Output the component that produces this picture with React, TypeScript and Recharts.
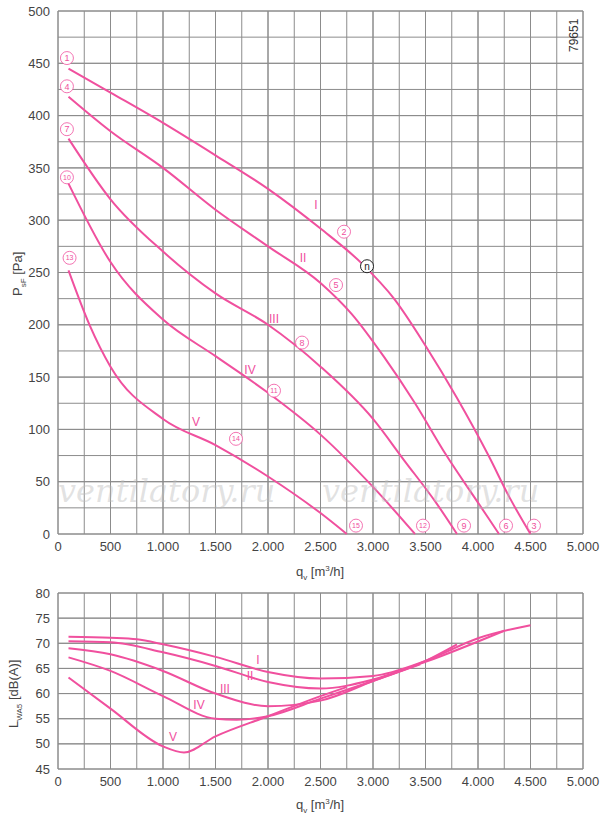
import React from 'react';
import { LineChart, Line, XAxis, YAxis, CartesianGrid, ReferenceLine, ReferenceDot } from 'recharts';

const PINK = '#f0509e';
const GRID = '#8c8c8c';
const xTicks = [0, 500, 1000, 1500, 2000, 2500, 3000, 3500, 4000, 4500, 5000];
const xMinor = [250, 750, 1250, 1750, 2250, 2750, 3250, 3750, 4250, 4750];
const pTicks = [0, 50, 100, 150, 200, 250, 300, 350, 400, 450, 500];
const pMinor = [25, 75, 125, 175, 225, 275, 325, 375, 425, 475];
const lTicks = [45, 50, 55, 60, 65, 70, 75, 80];

// pressure curves [q, Pa]
const pI = [[100, 445], [500, 422], [1000, 393], [1500, 362], [2000, 330], [2500, 292], [2900, 258], [3200, 225], [3500, 180], [3800, 130], [4100, 75], [4300, 35], [4500, 0]];
const pII = [[100, 418], [500, 385], [1000, 350], [1500, 310], [2000, 275], [2500, 240], [2800, 210], [3100, 170], [3400, 125], [3700, 75], [4000, 30], [4200, 0]];
const pIII = [[100, 378], [500, 320], [1000, 270], [1500, 230], [2000, 200], [2500, 160], [3000, 110], [3300, 70], [3600, 30], [3800, 0]];
const pIV = [[100, 335], [500, 260], [1000, 205], [1500, 170], [2000, 135], [2500, 95], [3000, 45], [3400, 0]];
const pV = [[100, 252], [300, 200], [500, 160], [1000, 110], [1500, 85], [2000, 55], [2500, 20], [2750, 0]];

// sound curves [q, dB(A)]
const lI = [[100, 71.3], [500, 71.1], [750, 70.8], [1000, 69.8], [1500, 67.3], [2000, 64.3], [2500, 63], [3000, 63.5], [3500, 66.5], [4000, 71], [4500, 73.6]];
const lII = [[100, 70.4], [500, 70.2], [1000, 68.2], [1500, 65.5], [2000, 62.3], [2500, 61], [3000, 62.8], [3500, 66.3], [4250, 72.5]];
const lIII = [[100, 69], [500, 67.8], [1000, 64.5], [1500, 60], [2000, 57.5], [2500, 58.6], [3000, 62.5], [3500, 66.5], [3800, 69.8]];
const lIV = [[100, 67.2], [500, 64.5], [1000, 59.5], [1500, 55], [1700, 54.8], [2000, 55.5], [2500, 59], [3000, 62.5], [3450, 65.8]];
const lV = [[100, 63.2], [500, 57], [1000, 49.5], [1200, 48.3], [1500, 51.5], [2000, 55.5], [2500, 59.5], [2750, 61.3]];

const circled = [
  ['1', 85, 455], ['4', 85, 428], ['7', 85, 387], ['10', 85, 341], ['13', 110, 264],
  ['2', 2724, 289], ['5', 2648, 238], ['8', 2324, 183], ['11', 2057, 137], ['14', 1695, 91],
  ['3', 4533, 8], ['6', 4267, 8], ['9', 3867, 8], ['12', 3476, 8], ['15', 2838, 8],
];
const romanTop = [['I', 2457, 315], ['II', 2333, 264], ['III', 2057, 206], ['IV', 1829, 157], ['V', 1314, 107]];
const romanBottom = [['I', 1905, 66.7], ['II', 1829, 63.6], ['III', 1590, 60.9], ['IV', 1343, 57.8], ['V', 1095, 51.5]];

const toData = (a: number[][]) => a.map(([q, v]) => ({ q, v }));
const font = 'Arial, "Liberation Sans", sans-serif';
const tick = { fill: '#444', fontSize: 13, fontFamily: font };
const fmt = (v: number) => (v >= 1000 ? v.toLocaleString('de-DE') : String(v));

const lines = (sets: number[][][]) =>
  sets.map((s, i) => (
    <Line key={i} data={toData(s)} dataKey="v" type="monotone" stroke={PINK} strokeWidth={2} dot={false} isAnimationActive={false} />
  ));
const gridLines = (xs: number[], ys: number[]) => [
  ...xs.map((x) => <ReferenceLine key={'gx' + x} x={x} stroke={GRID} strokeWidth={1} strokeOpacity={1} ifOverflow="visible" />),
  ...ys.map((y) => <ReferenceLine key={'gy' + y} y={y} stroke={GRID} strokeWidth={1} strokeOpacity={1} ifOverflow="visible" />),
];

export default function App() {
  return (
    <div style={{ position: 'absolute', left: 0, top: 0, width: 600, height: 820, background: '#fff', fontFamily: font }}>
      <div style={{ position: 'absolute', left: 0, top: 0 }}>
        <LineChart width={600} height={560} data={toData(pI)} margin={{ top: 11, right: 17, left: 0, bottom: 0 }}>
          <CartesianGrid stroke={GRID} strokeOpacity={1} />
          <XAxis type="number" dataKey="q" domain={[0, 5000]} ticks={xTicks} tickFormatter={fmt} tick={tick} height={26} axisLine={false} tickLine={false} />
          <YAxis type="number" domain={[0, 500]} ticks={pTicks} tick={tick} width={58} axisLine={false} tickLine={false} />
          {gridLines([...xMinor, ...xTicks], [...pMinor, ...pTicks])}
          {lines([pI, pII, pIII, pIV, pV])}
          {circled.map(([t, x, y]) => (
            <ReferenceDot key={'c' + t} x={x as number} y={y as number} r={6.5} fill="#fff" stroke={PINK} strokeWidth={0.8}
              label={{ value: t, position: 'center', fill: PINK, fontSize: (t as string).length > 1 ? 7 : 9 }} />
          ))}
          <ReferenceDot x={2943} y={256} r={6.5} fill="#fff" stroke="#222" strokeWidth={1}
            label={{ value: 'n', position: 'center', fill: '#222', fontSize: 10 }} />
          {romanTop.map(([t, x, y]) => (
            <ReferenceDot key={'r' + t} x={x as number} y={y as number} r={0}
              label={{ value: t, position: 'center', fill: PINK, fontSize: 12 }} />
          ))}
        </LineChart>
      </div>
      <div style={{ position: 'absolute', left: 0, top: 580 }}>
        <LineChart width={600} height={211} data={toData(lI)} margin={{ top: 13, right: 17, left: 0, bottom: 0 }}>
          <CartesianGrid stroke={GRID} strokeOpacity={1} />
          <XAxis type="number" dataKey="q" domain={[0, 5000]} ticks={xTicks} tickFormatter={fmt} tick={tick} height={22} axisLine={false} tickLine={false} />
          <YAxis type="number" domain={[45, 80]} ticks={lTicks} tick={tick} width={58} axisLine={false} tickLine={false} />
          {gridLines([...xMinor, ...xTicks], lTicks)}
          {lines([lI, lII, lIII, lIV, lV])}
          {romanBottom.map(([t, x, y]) => (
            <ReferenceDot key={'b' + t} x={x as number} y={y as number} r={0}
              label={{ value: t, position: 'center', fill: PINK, fontSize: 12 }} />
          ))}
        </LineChart>
      </div>
      <div style={{ position: 'absolute', left: 296, top: 564, fontSize: 13, color: '#444' }}>
        q<sub style={{ fontSize: 8 }}>v</sub> [m<sup style={{ fontSize: 8 }}>3</sup>/h]
      </div>
      <div style={{ position: 'absolute', left: 296, top: 797, fontSize: 13, color: '#444' }}>
        q<sub style={{ fontSize: 8 }}>v</sub> [m<sup style={{ fontSize: 8 }}>3</sup>/h]
      </div>
      <div style={{ position: 'absolute', left: 10, top: 296, transform: 'rotate(-90deg)', transformOrigin: 'left top', fontSize: 13, color: '#444', whiteSpace: 'nowrap' }}>
        P<sub style={{ fontSize: 8 }}>sF</sub> [Pa]
      </div>
      <div style={{ position: 'absolute', left: 6, top: 728, transform: 'rotate(-90deg)', transformOrigin: 'left top', fontSize: 13, color: '#444', whiteSpace: 'nowrap' }}>
        L<sub style={{ fontSize: 8 }}>WA5</sub> [dB(A)]
      </div>
      <div style={{ position: 'absolute', left: 567, top: 52, transform: 'rotate(-90deg)', transformOrigin: 'left top', fontSize: 12, color: '#333' }}>
        79651
      </div>
      <div style={{ position: 'absolute', left: 58, top: 472, fontSize: 32, color: 'rgba(190,190,190,0.45)', fontFamily: '"DejaVu Serif", serif', fontStyle: 'italic' }}>
        ventilatory.ru
      </div>
      <div style={{ position: 'absolute', left: 322, top: 472, fontSize: 32, color: 'rgba(190,190,190,0.45)', fontFamily: '"DejaVu Serif", serif', fontStyle: 'italic' }}>
        ventilatory.ru
      </div>
    </div>
  );
}
